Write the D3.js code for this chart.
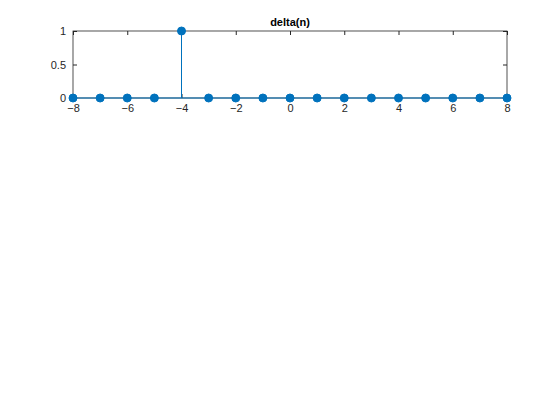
<!DOCTYPE html>
<html><head><meta charset="utf-8">
<script src="https://cdn.jsdelivr.net/npm/d3@7"></script>
<style>body{margin:0;background:#fff}svg{font-family:Helvetica,"Liberation Sans",Arial,sans-serif}</style>
</head><body><div id="wrapper"></div>
<script>
const nValues = [-8,-7,-6,-5,-4,-3,-2,-1,0,1,2,3,4,5,6,7,8]
const deltaValues = [0,0,0,0,1,0,0,0,0,0,0,0,0,0,0,0,0]
const xTicks = [-8,-6,-4,-2,0,2,4,6,8]
const yTicks = [0,0.5,1]

const m = { top: 31, left: 73, right: 53 }
const W = 560, H = 420, bh = 67
const bw = W - m.left - m.right

const svg = d3.select("#wrapper").append("svg").attr("width", W).attr("height", H)
const g = svg.append("g").attr("transform", `translate(${m.left},${m.top})`)

const x = d3.scaleLinear().domain([-8, 8]).range([0, bw])
const y = d3.scaleLinear().domain([0, 1]).range([bh, 0])

const styleAxis = (sel) => {
  sel.select(".domain").remove()
  sel.selectAll("line").attr("stroke", "#262626")
  sel.selectAll("text").attr("fill", "#262626").style("font-size", "11px")
}

g.append("g").attr("transform", `translate(0,${bh})`)
  .call(d3.axisBottom(x).tickValues(xTicks).tickSize(-4).tickPadding(6).tickFormat(d3.format("d")))
  .call(styleAxis)
g.append("g")
  .call(d3.axisTop(x).tickValues(xTicks).tickSize(-4).tickFormat(""))
  .call(styleAxis)
g.append("g")
  .call(d3.axisLeft(y).tickValues(yTicks).tickSize(-4).tickPadding(7).tickFormat(d => d))
  .call(styleAxis)
g.append("g").attr("transform", `translate(${bw},0)`)
  .call(d3.axisRight(y).tickValues(yTicks).tickSize(-4).tickFormat(""))
  .call(styleAxis)

g.append("rect").attr("width", bw).attr("height", bh)
  .attr("fill", "none").attr("stroke", "#262626").attr("stroke-width", 0.8)

const pts = nValues.map((n, i) => ({ n, v: deltaValues[i] }))
g.selectAll(".stem").data(pts).join("line")
  .attr("x1", d => x(d.n)).attr("x2", d => x(d.n))
  .attr("y1", y(0)).attr("y2", d => y(d.v))
  .attr("stroke", "#0072BD").attr("stroke-width", 1)
g.append("line").attr("x1", 0).attr("x2", bw).attr("y1", y(0)).attr("y2", y(0))
  .attr("stroke", "#0072BD")
g.selectAll(".pt").data(pts).join("circle")
  .attr("cx", d => x(d.n)).attr("cy", d => y(d.v)).attr("r", 4)
  .attr("fill", "#0072BD").attr("stroke", "#0072BD")

svg.append("text").attr("x", m.left + bw / 2).attr("y", 26)
  .attr("text-anchor", "middle").style("font-size", "11px").style("font-weight", "bold")
  .attr("fill", "#000").text("delta(n)")
</script></body></html>
